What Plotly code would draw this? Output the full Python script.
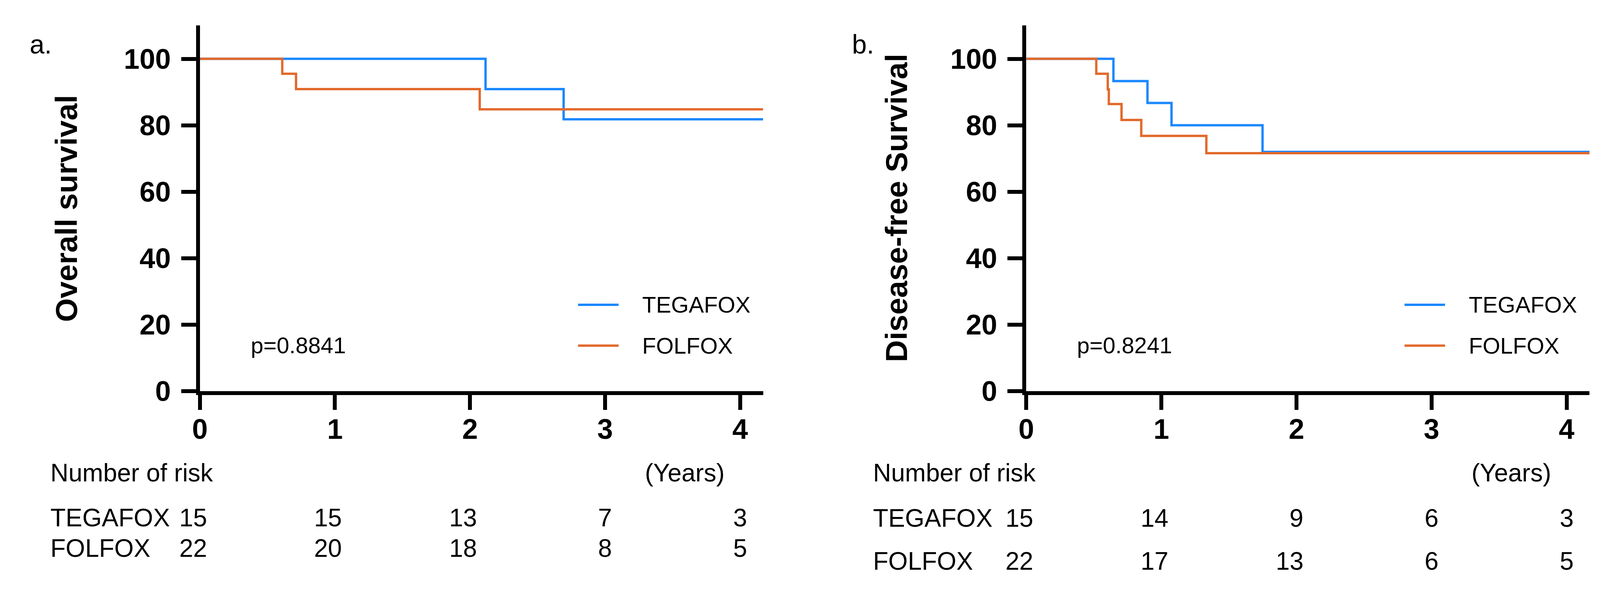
import plotly.graph_objects as go

# ---------------- data ----------------
years_ticks = [0, 1, 2, 3, 4]
surv_ticks = [0, 20, 40, 60, 80, 100]

os_tegafox_t = [0, 2.115, 2.693, 4.17]
os_tegafox_s = [100, 90.9, 81.8, 81.8]
os_folfox_t = [0, 0.61, 0.712, 2.072, 4.17]
os_folfox_s = [100, 95.5, 90.9, 84.8, 84.8]

dfs_tegafox_t = [0, 0.645, 0.897, 1.075, 1.749, 4.17]
dfs_tegafox_s = [100, 93.3, 86.7, 80.0, 72.0, 72.0]
dfs_folfox_t = [0, 0.518, 0.603, 0.611, 0.705, 0.851, 1.333, 4.17]
dfs_folfox_s = [100, 95.5, 90.8, 86.4, 81.6, 76.8, 71.6, 71.6]

risk_os_tegafox = [15, 15, 13, 7, 3]
risk_os_folfox = [22, 20, 18, 8, 5]
risk_dfs_tegafox = [15, 14, 9, 6, 3]
risk_dfs_folfox = [22, 17, 13, 6, 5]

p_os = "p=0.8841"
p_dfs = "p=0.8241"
groups = ["TEGAFOX", "FOLFOX"]

BLUE = "#1A87FF"
ORANGE = "#E2692B"
FONT = "Liberation Sans"
W, H = 4120, 1515

fig = go.Figure()

def add_curve(x, y, color, xa, ya):
    fig.add_trace(go.Scatter(x=x, y=y, mode="lines", line=dict(color=color, width=6, shape="hv"),
                             xaxis=xa, yaxis=ya, showlegend=False, hoverinfo="skip"))

add_curve(os_tegafox_t, os_tegafox_s, BLUE, "x", "y")
add_curve(os_folfox_t, os_folfox_s, ORANGE, "x", "y")
add_curve(dfs_tegafox_t, dfs_tegafox_s, BLUE, "x2", "y2")
add_curve(dfs_folfox_t, dfs_folfox_s, ORANGE, "x2", "y2")

# legend samples drawn as short line traces
for xa, ya in (("x", "y"), ("x2", "y2")):
    fig.add_trace(go.Scatter(x=[2.80, 3.10], y=[26.0, 26.0], mode="lines", line=dict(color=BLUE, width=6),
                             xaxis=xa, yaxis=ya, showlegend=False, hoverinfo="skip"))
    fig.add_trace(go.Scatter(x=[2.80, 3.10], y=[13.7, 13.7], mode="lines", line=dict(color=ORANGE, width=6),
                             xaxis=xa, yaxis=ya, showlegend=False, hoverinfo="skip"))

axis_common = dict(showgrid=False, zeroline=False, showline=True, linecolor="black", linewidth=10,
                   ticks="outside", ticklen=38, tickwidth=10, tickcolor="black",
                   tickfont=dict(family=FONT, size=72, color="black", weight="bold"))

xa_dom = [486 / W, 1935 / W]
xb_dom = [2612 / W, 4061 / W]
y_dom = [1 - 1020 / H, 1 - 59 / H]

fig.update_layout(
    width=W, height=H, margin=dict(l=0, r=0, t=0, b=0),
    paper_bgcolor="white", plot_bgcolor="white",
    xaxis=dict(domain=xa_dom, range=[0, 4.17], tickvals=years_ticks, anchor="y", ticklabelstandoff=-12, **axis_common),
    yaxis=dict(domain=y_dom, range=[0, 110], tickvals=surv_ticks, anchor="x", ticklabelstandoff=12, **axis_common),
    xaxis2=dict(domain=xb_dom, range=[0, 4.17], tickvals=years_ticks, anchor="y2", ticklabelstandoff=-12, **axis_common),
    yaxis2=dict(domain=y_dom, range=[0, 110], tickvals=surv_ticks, anchor="x2", ticklabelstandoff=12, **axis_common),
)

ann = []
def txt(text, x, y, xref, yref, size, xanchor="left", yanchor="middle", bold=False, angle=0, xshift=0):
    ann.append(dict(text=text, x=x, y=y, xref=xref, yref=yref, showarrow=False, xanchor=xanchor,
                    yanchor=yanchor, textangle=angle, xshift=xshift,
                    font=dict(family=FONT, size=size, color="black", weight="bold" if bold else "normal")))

def py(pix):
    return 1 - pix / H

# panel labels
txt("a.", 46 / W, py(108), "paper", "paper", 68)
txt("b.", 2161 / W, py(108), "paper", "paper", 68)
# y titles
txt("Overall survival", 142 / W, py(540), "paper", "paper", 78, xanchor="center", bold=True, angle=-90)
txt("Disease-free Survival", 2278 / W, py(538), "paper", "paper", 78, xanchor="center", bold=True, angle=-90)

# p-values and legends
for xr, yr, p in (("x", "y", p_os), ("x2", "y2", p_dfs)):
    txt(p, 0.37, 13.8, xr, yr, 58)
    txt(groups[0], 3.27, 26.0, xr, yr, 58)
    txt(groups[1], 3.27, 13.7, xr, yr, 58)

# numbers at risk
panels = [
    ("x", 99, [risk_os_tegafox, risk_os_folfox], [1353, 1433]),
    ("x2", 2216, [risk_dfs_tegafox, risk_dfs_folfox], [1354, 1467]),
]
for xr, left, rows, ys in panels:
    txt("Number of risk", left / W, py(1235), "paper", "paper", 64)
    txt("(Years)", 3.29, py(1235), xr, "paper", 64)
    for g, row, yy in zip(groups, rows, ys):
        txt(g, left / W, py(yy), "paper", "paper", 64)
        for t, n in zip(years_ticks, row):
            txt(str(n), t, py(yy), xr, "paper", 64, xanchor="right", xshift=20)

fig.update_layout(annotations=ann)
fig.write_html("out.html")
